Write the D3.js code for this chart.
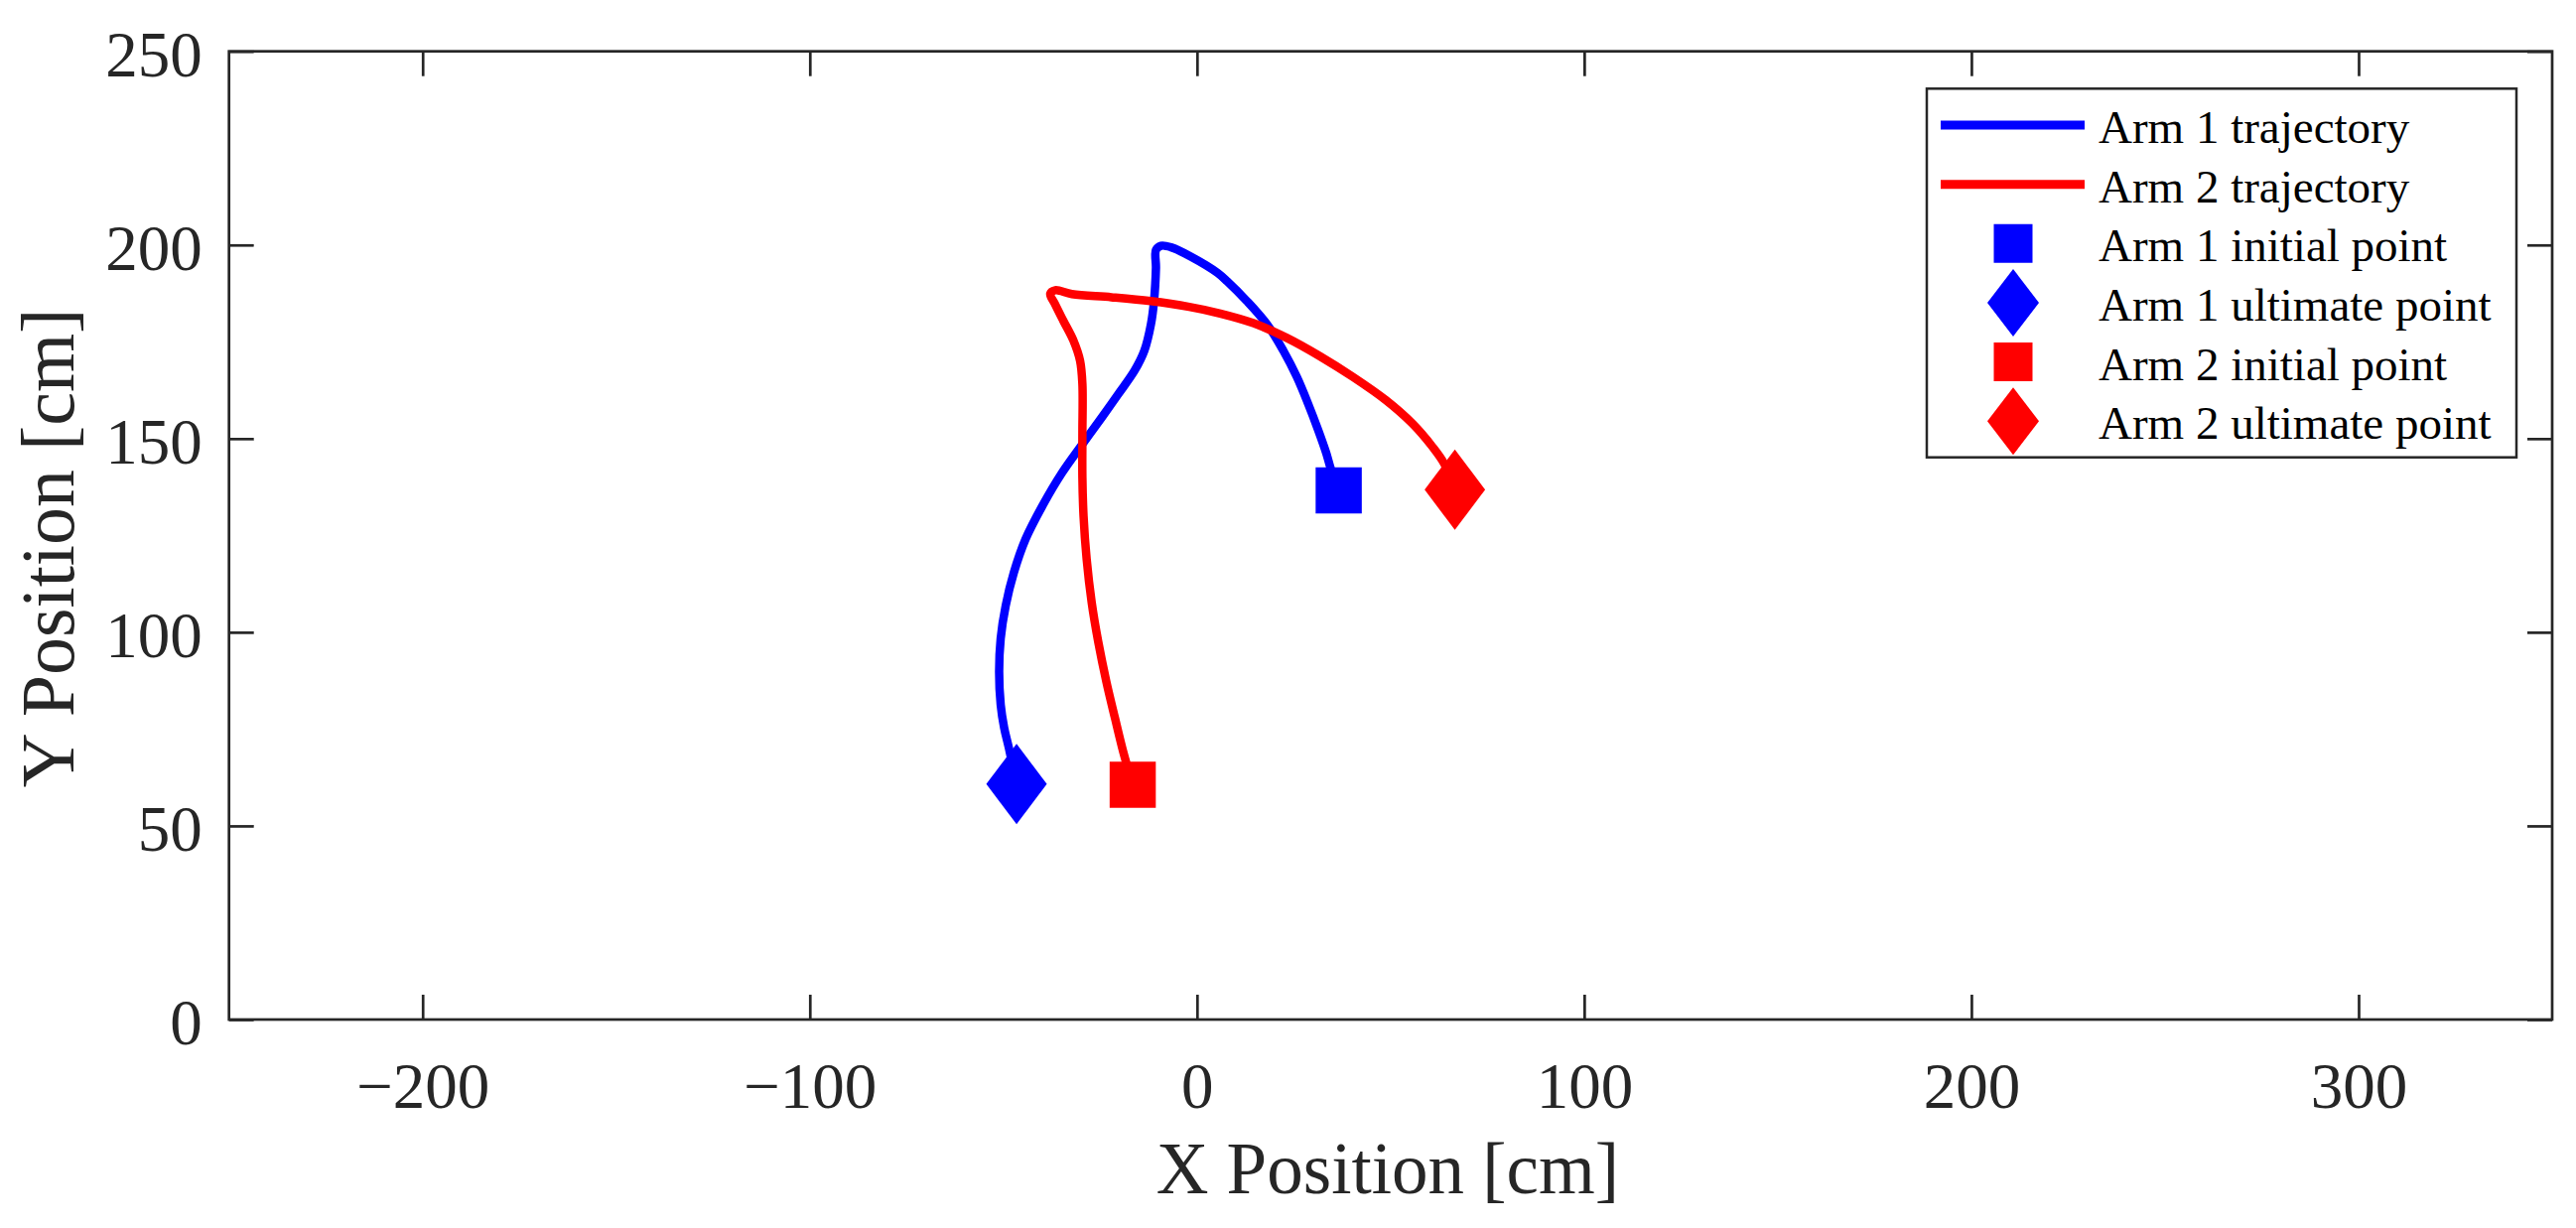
<!DOCTYPE html>
<html>
<head>
<meta charset="utf-8">
<script src="https://cdn.jsdelivr.net/npm/d3@7"></script>
<style>
  html, body { margin: 0; padding: 0; background: #fff; }
  svg { display: block; font-family: "Liberation Serif", "Times New Roman", serif; }
</style>
</head>
<body>
<div id="chart"></div>
<script>
// --- data (cm) --------------------------------------------------------------
const arm1X = [36.6, 34.5, 33.4, 31.3, 28.7, 25.8, 22.3, 18.1, 12.9, 7.8, 5.3, -1.6, -6.7, -9.3,
               -10.6, -10.6, -11.1, -11.9, -13.6, -16.1, -20.4, -24.5, -29.8, -34.9, -40.0,
               -44.3, -47.3, -49.4, -50.7, -51.1, -50.7, -49.8, -48.6, -46.6];
const arm1Y = [136.6, 142.4, 146.2, 152.2, 159.0, 165.9, 172.7, 179.5, 185.5, 190.6, 192.8, 197.0, 199.4, 199.8,
               198.7, 194.1, 185.5, 179.5, 172.7, 167.6, 161.4, 155.6, 148.3, 141.1, 132.5,
               124.0, 115.4, 106.9, 98.4, 89.8, 81.3, 75.3, 70.2, 60.8];

const arm2X = [-16.6, -19.1, -21.2, -23.4, -25.5, -27.2, -28.5, -29.3, -29.6, -29.6, -29.6,
               -30.2, -31.9, -34.5, -36.6, -37.9, -36.6, -32.3, -22.1, -12.0, -2.0, 6.0,
               14.6, 23.2, 31.7, 40.3, 48.8, 55.6, 60.8, 63.8, 66.6];
const arm2Y = [60.6, 69.3, 77.9, 87.2, 97.5, 107.7, 118.9, 130.0, 140.0, 151.3, 164.1,
               170.1, 175.3, 180.4, 184.6, 187.4, 188.3, 187.3, 186.5, 185.5, 184.0, 182.3,
               179.8, 176.0, 171.3, 165.9, 159.9, 153.9, 147.9, 143.6, 136.8];

const initialPoints  = [[36.6, 136.6], [-16.6, 60.6]];   // arm 1, arm 2
const ultimatePoints = [[-46.6, 60.8], [66.6, 136.8]];   // arm 1, arm 2

const armColors = ["#0000ff", "#ff0000"];
const legendLabels = ["Arm 1 trajectory", "Arm 2 trajectory", "Arm 1 initial point",
                      "Arm 1 ultimate point", "Arm 2 initial point", "Arm 2 ultimate point"];
const xTicks = [-200, -100, 0, 100, 200, 300];
const yTicks = [0, 50, 100, 150, 200, 250];

// --- canvas -----------------------------------------------------------------
const width = 2595, height = 1237;
const m = { top: 51.7, right: 24, bottom: 210, left: 230.7 };
const innerW = width - m.left - m.right;
const innerH = height - m.top - m.bottom;
const axisColor = "#262626";

const svg = d3.select("#chart").append("svg")
    .attr("width", width)
    .attr("height", height)
    .attr("viewBox", `0 0 ${width} ${height}`);
const plot = svg.append("g").attr("transform", `translate(${m.left},${m.top})`);

const x = d3.scaleLinear().domain([-250, 350]).range([0, innerW]);
const y = d3.scaleLinear().domain([0, 250]).range([innerH, 0]);

// axes: ticks pointing inward on all four sides (MATLAB box on)
function styleAxis(g) {
    g.select(".domain").remove();
    g.selectAll(".tick line").attr("stroke", axisColor).attr("stroke-width", 2.7);
    g.selectAll("text").attr("fill", axisColor).attr("font-size", 65)
        .attr("font-family", "Liberation Serif, Times New Roman, serif");
}
plot.append("g").attr("transform", `translate(0,${innerH})`)
    .call(d3.axisBottom(x).tickValues(xTicks).tickSize(-25).tickPadding(43))
    .call(styleAxis);
plot.append("g")
    .call(d3.axisTop(x).tickValues(xTicks).tickSize(-25).tickFormat(""))
    .call(styleAxis);
plot.append("g")
    .call(d3.axisLeft(y).tickValues(yTicks).tickSize(-25).tickPadding(27))
    .call(styleAxis)
    .call(g => g.selectAll("text").attr("dy", "0.38em"));
plot.append("g").attr("transform", `translate(${innerW},0)`)
    .call(d3.axisRight(y).tickValues(yTicks).tickSize(-25).tickFormat(""))
    .call(styleAxis);

plot.append("rect")
    .attr("width", innerW).attr("height", innerH)
    .attr("fill", "none").attr("stroke", axisColor).attr("stroke-width", 2.7);

// axis titles
svg.append("text")
    .attr("x", m.left + innerW / 2 - 3).attr("y", 1202)
    .attr("text-anchor", "middle").attr("font-size", 73).attr("fill", axisColor)
    .text("X Position [cm]");
svg.append("text")
    .attr("transform", "translate(74,552) rotate(-90)")
    .attr("text-anchor", "middle").attr("font-size", 76).attr("fill", axisColor)
    .text("Y Position [cm]");

// --- trajectories -----------------------------------------------------------
const line = d3.line()
    .x(d => x(d[0])).y(d => y(d[1]))
    .curve(d3.curveCatmullRom.alpha(0.5));

const arms = [d3.zip(arm1X, arm1Y), d3.zip(arm2X, arm2Y)];
plot.selectAll("path.traj")
    .data(arms)
    .join("path")
    .attr("class", "traj")
    .attr("d", line)
    .attr("fill", "none")
    .attr("stroke", (d, i) => armColors[i])
    .attr("stroke-width", 8.5)
    .attr("stroke-linejoin", "round");

// markers
const squareSym  = s => d3.symbol(d3.symbolSquare, s * s);
function diamondPath(w, h) {
    return `M0,${-h / 2}L${w / 2},0L0,${h / 2}L${-w / 2},0Z`;
}
plot.selectAll("path.init")
    .data(initialPoints)
    .join("path")
    .attr("class", "init")
    .attr("transform", d => `translate(${x(d[0])},${y(d[1])})`)
    .attr("d", squareSym(46.5)())
    .attr("fill", (d, i) => armColors[i]);
plot.selectAll("path.ult")
    .data(ultimatePoints)
    .join("path")
    .attr("class", "ult")
    .attr("transform", d => `translate(${x(d[0])},${y(d[1])})`)
    .attr("d", diamondPath(61, 81))
    .attr("fill", (d, i) => armColors[i]);

// --- legend -----------------------------------------------------------------
const lg = svg.append("g");
const lgBox = { x: 1941, y: 89.3, w: 594, h: 371.4 };
lg.append("rect")
    .attr("x", lgBox.x).attr("y", lgBox.y).attr("width", lgBox.w).attr("height", lgBox.h)
    .attr("fill", "#fff").attr("stroke", axisColor).attr("stroke-width", 2.5);

const rowY = i => 126 + i * 59.65;
const symX = 2028;
// which colour/marker each legend row uses
const legendKinds = [["line", 0], ["line", 1], ["square", 0], ["diamond", 0], ["square", 1], ["diamond", 1]];

legendKinds.forEach(([kind, c], i) => {
    const cy = rowY(i);
    if (kind === "line") {
        lg.append("line")
            .attr("x1", 1955).attr("x2", 2100).attr("y1", cy).attr("y2", cy)
            .attr("stroke", armColors[c]).attr("stroke-width", 9);
    } else if (kind === "square") {
        lg.append("path")
            .attr("transform", `translate(${symX},${cy})`)
            .attr("d", squareSym(39)())
            .attr("fill", armColors[c]);
    } else {
        lg.append("path")
            .attr("transform", `translate(${symX},${cy})`)
            .attr("d", diamondPath(52, 68))
            .attr("fill", armColors[c]);
    }
    lg.append("text")
        .attr("x", 2114).attr("y", cy + 18)
        .attr("font-size", 47).attr("fill", "#000")
        .text(legendLabels[i]);
});
</script>
</body>
</html>
